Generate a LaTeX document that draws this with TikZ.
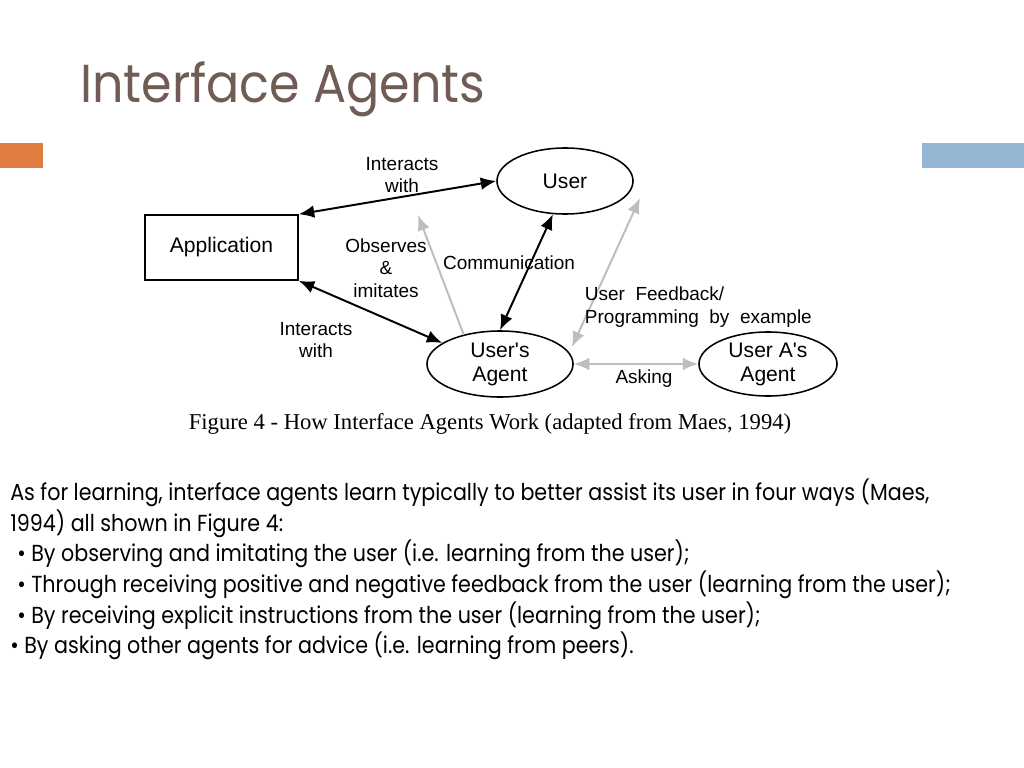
\documentclass[tikz,border=0pt]{standalone}
\usepackage{fontspec}
\setmainfont{Liberation Sans}
\newfontfamily\slidefont[FakeStretch=0.89]{Poppins}
\newfontfamily\titlefont[FakeStretch=0.92]{Poppins}
\newfontfamily\capfont{Liberation Serif}
\usetikzlibrary{shapes.geometric,arrows.meta}
\definecolor{titlebrown}{RGB}{112,92,84}
\definecolor{barorange}{RGB}{224,124,64}
\definecolor{barblue}{RGB}{148,182,210}
\definecolor{arrowgray}{RGB}{190,190,190}
\begin{document}
\begin{tikzpicture}[x=0.025cm,y=-0.025cm]
        \tikzstyle{block} = [rectangle, text=black, text centered, draw=black, line width=1.1pt, font=\fontsize{15}{17}\selectfont, minimum width=3.825cm, minimum height=1.625cm]
        \tikzstyle{oval} = [ellipse, text=black, align=center, draw=black, line width=1.1pt, inner sep=0pt, font=\fontsize{15}{17}\selectfont]
        \tikzstyle{label} = [align=center, font=\fontsize{13.5}{16}\selectfont]
        \tikzstyle{line} = [{Latex[length=11pt,width=9pt]}-{Latex[length=11pt,width=9pt]},draw=black,line width=1.4pt]
        \tikzstyle{greyline} = [-{Latex[length=11pt,width=9pt]},draw=arrowgray,line width=1.4pt]
        \tikzstyle{bodyline} = [anchor=base west, inner sep=0pt, text=black, font=\slidefont\fontsize{16.5}{22}\selectfont]
        \useasboundingbox[fill=white] (0,0) rectangle (1024,768);
        % title and side bars
        \node[anchor=base west, inner sep=0pt, text=titlebrown, font=\titlefont\fontsize{38}{40}\selectfont] (title) at (80,103) {Interface Agents};
        \fill[barorange] (0,143) rectangle (43,168);
        \fill[barblue] (922,143) rectangle (1024,168);
        % figure
        \node[block] (app) at (221.5,247.5) {Application};
        \node[oval, minimum width=3.4cm, minimum height=1.65cm] (user) at (565,181) {User};
        \node[oval, minimum width=3.65cm, minimum height=1.65cm] (agent) at (500,364) {User\textquotesingle s\\Agent};
        \node[oval, minimum width=3.45cm, minimum height=1.6cm] (peer) at (768,364) {User A\textquotesingle s\\Agent};
        \coordinate (obs) at (418,215);
        \coordinate (fbtop) at (640,198);
        \coordinate (fbbot) at (572,347);
        \draw[line] (app.north east) -- (user.west);
        \draw[line] (app.south east) -- (agent.160);
        \draw[line] (agent.north) -- (user.250);
        \draw[greyline] (agent.141) -- (obs);
        \draw[greyline, {Latex[length=11pt,width=9pt]}-{Latex[length=11pt,width=9pt]}] (fbbot) -- (fbtop);
        \draw[greyline, {Latex[length=11pt,width=9pt]}-{Latex[length=11pt,width=9pt]}] (agent.east) -- (peer.west);
        \node[label] (lint1) at (402,175) {Interacts\\with};
        \node[label] (lobs) at (386,268) {Observes\\\&\\imitates};
        \node[label] (lcom) at (509,263) {Communication};
        \node[label, align=left, anchor=west] (lfb) at (580,307) {User\ \ Feedback/\\Programming\ \ by\ \ example};
        \node[label] (lint2) at (316,340) {Interacts\\with};
        \node[label] (lask) at (644,379) {Asking};
        \node[font=\capfont\fontsize{16.1}{18}\selectfont] (caption) at (490,424) {Figure 4 - How Interface Agents Work (adapted from Maes, 1994)};
        % body text
        \node[bodyline] (t1) at (10,500) {As for learning, interface agents learn typically to better assist its user in four ways (Maes,};
        \node[bodyline] (t2) at (10,531) {1994) all shown in Figure 4:};
        \node[bodyline] (t3) at (17,561) {\textbullet\ By observing and imitating the user (i.e. learning from the user);};
        \node[bodyline] (t4) at (17,592) {\textbullet\ Through receiving positive and negative feedback from the user (learning from the user);};
        \node[bodyline] (t5) at (17,623) {\textbullet\ By receiving explicit instructions from the user (learning from the user);};
        \node[bodyline] (t6) at (10,653) {\textbullet\ By asking other agents for advice (i.e. learning from peers).};
\end{tikzpicture}
\end{document}
